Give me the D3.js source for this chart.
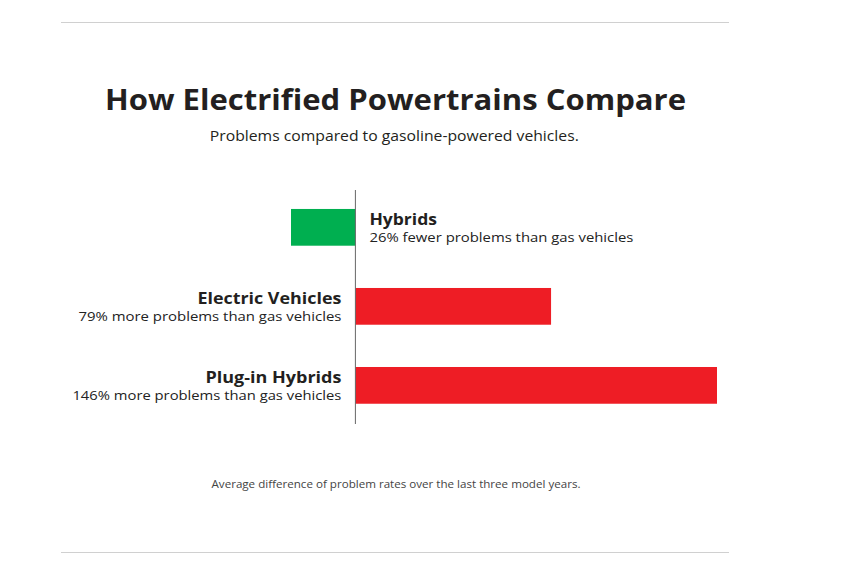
<!DOCTYPE html>
<html>
<head>
<meta charset="utf-8">
<script src="https://cdn.jsdelivr.net/npm/d3@7/dist/d3.min.js"></script>
<style>
  html, body { margin: 0; padding: 0; background: #fff; }
  svg { display: block; }
  text { font-family: "Open Sans", "Noto Sans", sans-serif; fill: #231f20; }
</style>
</head>
<body>
<svg id="chart" width="844" height="587"></svg>
<script>
// ---- data ----
const categories = ["Hybrids", "Electric Vehicles", "Plug-in Hybrids"];
const values = [-26, 79, 146];
const descriptions = [
  "26% fewer problems than gas vehicles",
  "79% more problems than gas vehicles",
  "146% more problems than gas vehicles"
];
const title = "How Electrified Powertrains Compare";
const subtitle = "Problems compared to gasoline-powered vehicles.";
const footnote = "Average difference of problem rates over the last three model years.";

// ---- drawing ----
const svg = d3.select("#chart");
const green = "#00af50", red = "#ee1d25";

// rules
svg.append("line").attr("x1", 61).attr("x2", 729).attr("y1", 22.5).attr("y2", 22.5)
  .attr("stroke", "#d0d0d0").attr("stroke-width", 1);
svg.append("line").attr("x1", 61).attr("x2", 729).attr("y1", 552.5).attr("y2", 552.5)
  .attr("stroke", "#d0d0d0").attr("stroke-width", 1);

svg.append("text").attr("x", 395.5).attr("y", 110).attr("text-anchor", "middle")
  .attr("font-size", 28).attr("font-weight", 700)
  .attr("textLength", 581).attr("lengthAdjust", "spacingAndGlyphs").text(title);
svg.append("text").attr("x", 394.3).attr("y", 141).attr("text-anchor", "middle")
  .attr("font-size", 14.5).attr("fill", "#222")
  .attr("textLength", 369).attr("lengthAdjust", "spacingAndGlyphs").text(subtitle);
svg.append("text").attr("x", 396).attr("y", 488.3).attr("text-anchor", "middle")
  .attr("font-size", 10.5).style("fill", "#444")
  .attr("textLength", 369).attr("lengthAdjust", "spacingAndGlyphs").text(footnote);

const x = d3.scaleLinear().domain([-26, 146]).range([291, 717]);
const y = d3.scaleBand().domain(categories).range([190, 422.7])
  .paddingInner(0.535).paddingOuter(0.24);

const data = categories.map((c, i) => ({ cat: c, value: values[i], desc: descriptions[i] }));

svg.append("g").selectAll("rect").data(data).join("rect")
  .attr("x", d => x(Math.min(0, d.value)))
  .attr("width", d => Math.abs(x(d.value) - x(0)))
  .attr("y", d => y(d.cat))
  .attr("height", y.bandwidth())
  .attr("fill", d => d.value < 0 ? green : red);

// zero axis
svg.append("line").attr("x1", x(0)).attr("x2", x(0)).attr("y1", 190).attr("y2", 424)
  .attr("stroke", "#666").attr("stroke-width", 1);

const nameLen = { "Hybrids": 67.6, "Electric Vehicles": 144, "Plug-in Hybrids": 136 };
const descLen = [264, 263, 269];

const labels = svg.append("g").selectAll("g").data(data).join("g")
  .attr("transform", d => {
    const c = y(d.cat) + y.bandwidth() / 2;
    const lx = d.value < 0 ? x(0) + 14 : x(0) - 14;
    return `translate(${lx},${c})`;
  })
  .attr("text-anchor", d => d.value < 0 ? "start" : "end");

labels.append("text").attr("y", -2.5).attr("font-size", 16.5).attr("font-weight", 700)
  .attr("textLength", d => nameLen[d.cat]).attr("lengthAdjust", "spacingAndGlyphs")
  .text(d => d.cat);
labels.append("text").attr("y", 14.5).attr("font-size", 13.5).style("fill", "#222")
  .attr("textLength", (d, i) => descLen[i]).attr("lengthAdjust", "spacingAndGlyphs")
  .text(d => d.desc);
</script>
</body>
</html>
